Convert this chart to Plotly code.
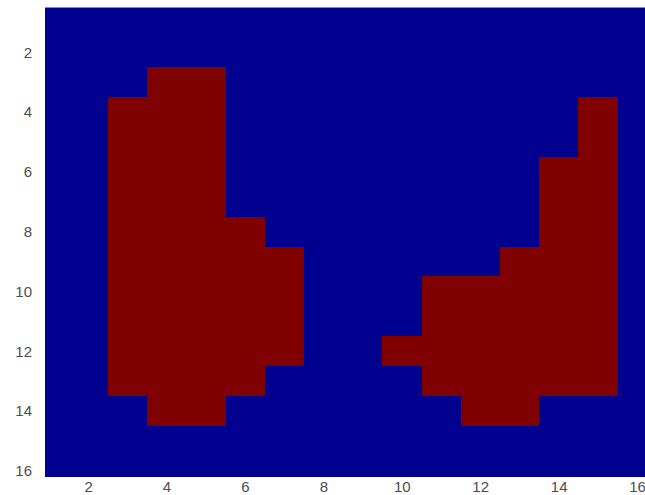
import plotly.graph_objects as go

# Binary 16x16 mask (row 1 at top), 1 = region, 0 = background
col_index = list(range(1, 17))
row_index = list(range(1, 17))
mask = [
    [0, 0, 0, 0, 0, 0, 0, 0, 0, 0, 0, 0, 0, 0, 0, 0],
    [0, 0, 0, 0, 0, 0, 0, 0, 0, 0, 0, 0, 0, 0, 0, 0],
    [0, 0, 0, 1, 1, 0, 0, 0, 0, 0, 0, 0, 0, 0, 0, 0],
    [0, 0, 1, 1, 1, 0, 0, 0, 0, 0, 0, 0, 0, 0, 1, 0],
    [0, 0, 1, 1, 1, 0, 0, 0, 0, 0, 0, 0, 0, 0, 1, 0],
    [0, 0, 1, 1, 1, 0, 0, 0, 0, 0, 0, 0, 0, 1, 1, 0],
    [0, 0, 1, 1, 1, 0, 0, 0, 0, 0, 0, 0, 0, 1, 1, 0],
    [0, 0, 1, 1, 1, 1, 0, 0, 0, 0, 0, 0, 0, 1, 1, 0],
    [0, 0, 1, 1, 1, 1, 1, 0, 0, 0, 0, 0, 1, 1, 1, 0],
    [0, 0, 1, 1, 1, 1, 1, 0, 0, 0, 1, 1, 1, 1, 1, 0],
    [0, 0, 1, 1, 1, 1, 1, 0, 0, 0, 1, 1, 1, 1, 1, 0],
    [0, 0, 1, 1, 1, 1, 1, 0, 0, 1, 1, 1, 1, 1, 1, 0],
    [0, 0, 1, 1, 1, 1, 0, 0, 0, 0, 1, 1, 1, 1, 1, 0],
    [0, 0, 0, 1, 1, 0, 0, 0, 0, 0, 0, 1, 1, 0, 0, 0],
    [0, 0, 0, 0, 0, 0, 0, 0, 0, 0, 0, 0, 0, 0, 0, 0],
    [0, 0, 0, 0, 0, 0, 0, 0, 0, 0, 0, 0, 0, 0, 0, 0],
]
x_ticks = [2, 4, 6, 8, 10, 12, 14, 16]
y_ticks = [2, 4, 6, 8, 10, 12, 14, 16]

fig = go.Figure(
    go.Heatmap(
        z=mask,
        x=col_index,
        y=row_index,
        zmin=0,
        zmax=1,
        colorscale=[[0, "rgb(0,0,143)"], [1, "rgb(128,0,0)"]],
        showscale=False,
    )
)

tick_font = dict(family="Liberation Sans, Arial, sans-serif", size=15, color="#4d4d4d")

fig.update_xaxes(
    range=[0.888, 16.19],
    tickvals=x_ticks,
    ticktext=[str(v) for v in x_ticks],
    ticks="",
    ticklabelstandoff=-1,
    ticklabeloverflow="allow",
    showgrid=False,
    zeroline=False,
    showline=False,
    tickfont=tick_font,
    automargin=False,
)
fig.update_yaxes(
    range=[16.2, 0.415],
    tickvals=y_ticks,
    ticktext=[str(v) for v in y_ticks],
    ticks="outside",
    ticklen=9,
    tickcolor="rgba(0,0,0,0)",
    showgrid=False,
    zeroline=False,
    showline=False,
    tickfont=tick_font,
    automargin=False,
)

fig.update_layout(
    width=645,
    height=495,
    margin=dict(l=45, r=0, t=5, b=18),
    paper_bgcolor="white",
    plot_bgcolor="white",
)

fig.write_html("out.html")
